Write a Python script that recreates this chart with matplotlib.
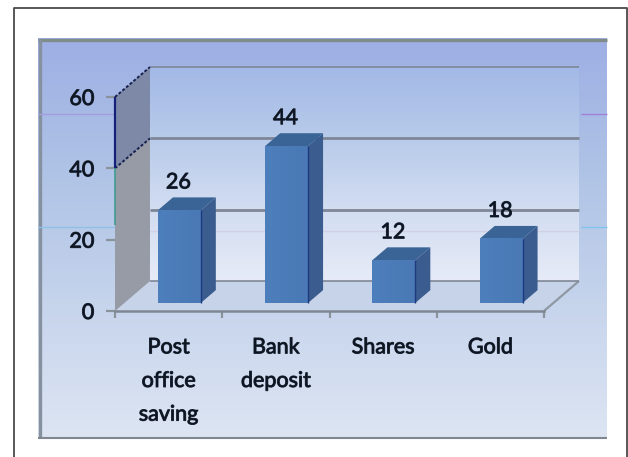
import numpy as np
import matplotlib
matplotlib.use('Agg')
import matplotlib.pyplot as plt
import matplotlib.patheffects as pe
from matplotlib.colors import LinearSegmentedColormap
from matplotlib.patches import Polygon

categories = ['Post\noffice\nsaving', 'Bank\ndeposit', 'Shares', 'Gold']
values = [26, 44, 12, 18]
y_ticks = [0, 20, 40, 60]

W, H = 628, 457
plt.rcParams['font.family'] = ['Lato', 'DejaVu Sans']
plt.rcParams['lines.solid_capstyle'] = 'butt'
txt_size = 15.5
txt_col = '#0E1522'
# the scan has heavy blurry text, a thin stroke gets close to it
heavy = [pe.withStroke(linewidth=0.7, foreground='#26303F')]

# depth of the fake 3d, in data units
wall_dx, wall_dy = 0.326, 8.4
bar_dx, bar_dy = 0.14, 3.6
base_dx, base_dy = 0.10, 2.25
bar_w = 0.40


def grad(cols):
    return LinearSegmentedColormap.from_list('g', cols)


def px_axes(fig, x0, y0, x1, y1):
    # rectangle given in image pixels, y going down
    return fig.add_axes([x0 / W, 1 - y1 / H, (x1 - x0) / W, (y1 - y0) / H])


fig = plt.figure(figsize=(W / 100, H / 100), dpi=100)

# outer box, open at the bottom
page = fig.add_axes([0, 0, 1, 1])
page.axis('off')
page.plot([13.5, 13.5, 626.5, 626.5], [H, 7.5, 7.5, H], color='#4a4a4a', lw=1.3)

# panel behind the chart
page.imshow(np.linspace(0, 1, 256).reshape(-1, 1), extent=[38, 607, 438, 38], aspect='auto',
            cmap=grad(['#9DAFE4', '#AFC3E6', '#C6D4EC', '#DDE5F3']), zorder=1)
page.set_xlim(0, W)
page.set_ylim(H, 0)
page.plot([38, 607], [39.5, 39.5], color='#7F8C88', lw=2.4, zorder=2)
page.plot([39.5, 39.5], [39, 438], color='#85919F', lw=2.4, zorder=2)
page.plot([38, 607], [437.5, 437.5], color='#7E8792', lw=1.5, zorder=2)
page.plot([38, 115], [113.5, 113.5], color='#A49CDC', lw=1, zorder=2)
page.plot([581, 607], [113.5, 113.5], color='#A080D8', lw=1, zorder=2)
page.plot([38, 115], [227, 227], color='#8FC0E8', lw=1, zorder=2)
page.plot([581, 607], [227, 227], color='#80C4EC', lw=1, zorder=2)

ax = px_axes(fig, 115, 97, 544, 311)
ax.patch.set_visible(False)
n = len(categories)


def img(cols, extent, z, horizontal=False):
    a = np.linspace(0, 1, 128)
    a = a.reshape(1, -1) if horizontal else a.reshape(-1, 1)
    return ax.imshow(a, extent=extent, aspect='auto', cmap=grad(cols), zorder=z,
                     origin='upper', clip_on=False)


# back wall
img(['#A3B9E6', '#B8CBEA', '#D2DDF1', '#E6EBF7'], [wall_dx, n + wall_dx, wall_dy, 60 + wall_dy], 1)
ax.plot([wall_dx, n + wall_dx], [22.4, 22.4], color='#D2D0E6', lw=1, zorder=2, clip_on=False)

# floor
ax.add_patch(Polygon([(0, 0), (n, 0), (n + wall_dx, wall_dy), (wall_dx, wall_dy)],
                     fc='#C6D3E8', ec='none', zorder=2, clip_on=False))
ax.plot([n, n + wall_dx], [0, wall_dy], color='#9098A4', lw=1.6, zorder=3, clip_on=False)

# left wall
ax.add_patch(Polygon([(0, 0), (wall_dx, wall_dy), (wall_dx, 60 + wall_dy), (0, 60)],
                     fc='#969BA6', ec='none', zorder=2, clip_on=False))
ax.add_patch(Polygon([(0, 40), (wall_dx, 40 + wall_dy), (wall_dx, 60 + wall_dy), (0, 60)],
                     fc='#7D89A6', ec='none', zorder=2, clip_on=False))

# gridlines on the wall
for t in y_ticks:
    ax.plot([wall_dx, n + wall_dx], [t + wall_dy, t + wall_dy], color='#7F8796',
            lw=1.2 if t in (0, 60) else 2, zorder=3, clip_on=False)
for t in y_ticks[2:]:
    ax.plot([0, wall_dx], [t, t + wall_dy], color='#15204F', lw=1.4, ls=(0, (1.5, 1)), zorder=3, clip_on=False)
ax.plot([0, 0], [40, 60], color='#14207A', lw=1.6, zorder=4, clip_on=False)
ax.plot([0, 0], [24, 40], color='#3F9C8E', lw=1.2, zorder=4, clip_on=False)

# bars
for i, v in enumerate(values):
    x0 = i + 0.5 - bar_w / 2 + base_dx
    x1 = x0 + bar_w
    b = base_dy
    ax.add_patch(Polygon([(x0, v + b), (x1, v + b), (x1 + bar_dx, v + b + bar_dy), (x0 + bar_dx, v + b + bar_dy)],
                         fc='#3B6496', ec='none', zorder=6))
    ax.add_patch(Polygon([(x1, b), (x1 + bar_dx, b + bar_dy), (x1 + bar_dx, v + b + bar_dy), (x1, v + b)],
                         fc='#3A5C8E', ec='none', zorder=6))
    img(['#4D7FBC', '#4A79B5'], [x0, x1, b, v + b], 7, horizontal=True)
    ax.plot([x1, x1], [b, v + b], color='#1E3A80', lw=1, zorder=8)
    ax.text(x0 + bar_w / 2 - 0.01, v + b + 7.8, str(v), ha='center', va='center',
            fontsize=txt_size, color=txt_col, zorder=9, clip_on=False, path_effects=heavy)
ax.set_xlim(0, 4)
ax.set_ylim(0, 60)

# axes
ax.set_yticks(y_ticks)
ax.set_xticks(range(n + 1))
ax.set_xticklabels([])
ax.set_xticks([i + 0.5 for i in range(n)], minor=True)
ax.set_xticklabels(categories, minor=True, fontsize=txt_size, color=txt_col, linespacing=1.85)
ax.tick_params(axis='x', which='minor', length=0, pad=19)
ax.tick_params(axis='x', which='major', length=5, width=1.6, color='#8A929C')
ax.tick_params(axis='y', length=6.5, width=1.6, color='#8A929C', pad=8.5, labelsize=txt_size, labelcolor=txt_col)
for lab in ax.get_xticklabels(minor=True) + ax.get_yticklabels():
    lab.set_path_effects(heavy)
for s in ['top', 'right', 'left']:
    ax.spines[s].set_visible(False)
ax.spines['bottom'].set_color('#7F8792')
ax.spines['bottom'].set_linewidth(1.8)
ax.spines['bottom'].set_zorder(5)

fig.savefig('out.png', dpi=100)
